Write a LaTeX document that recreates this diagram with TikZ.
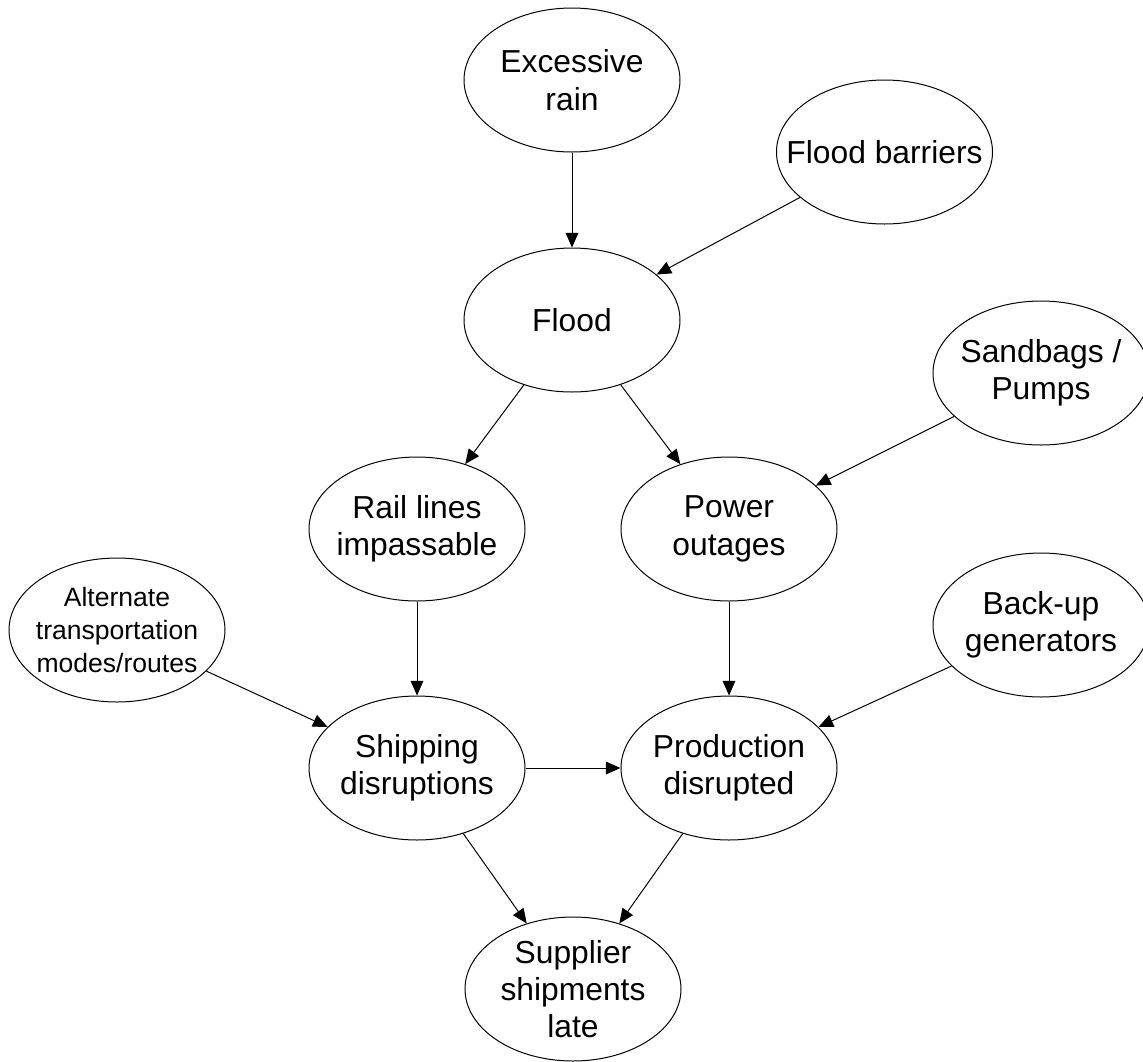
\documentclass[tikz,border=0pt]{standalone}
\usepackage{fontspec}
\setmainfont{Liberation Sans}
\usepackage{tikz}
\usetikzlibrary{shapes.geometric,arrows.meta}

\tikzset{
  ell/.style={draw, ellipse, line width=0.75pt, minimum width=162pt, minimum height=108pt,
    inner xsep=-30pt, inner ysep=-20pt, align=center,
    font=\fontsize{23.85pt}{28pt}\selectfont},
  ellsmall/.style={ell, font=\fontsize{19.9pt}{24.5pt}\selectfont},
  arr/.style={line width=0.75pt, -{Triangle[length=11pt,width=9.5pt]}}
}

\begin{document}
\begin{tikzpicture}[x=0.75pt,y=0.75pt,yscale=-1,xscale=1]
\useasboundingbox (0,0) rectangle (1143,1061);
%Shape: Ellipse
\node[ell] (rain) at (572,80) {Excessive\\rain};
\node[ell] (barriers) at (884.5,152) {Flood barriers};
\node[ell] (flood) at (572,320) {Flood};
\node[ell] (sandbags) at (1041,373) {Sandbags /\\Pumps};
\node[ell] (rail) at (417,529) {Rail lines\\impassable};
\node[ell] (power) at (729,529) {Power\\outages};
\node[ellsmall] (alternate) at (117,630) {Alternate\\transportation\\modes/routes};
\node[ell] (backup) at (1041,625) {Back-up\\generators};
\node[ell] (shipping) at (417,768) {Shipping\\disruptions};
\node[ell] (production) at (729,768) {Production\\disrupted};
\node[ell] (late) at (573,989) {Supplier\\shipments\\late};
%Straight Lines
\draw[arr] (rain) -- (flood);
\draw[arr] (barriers) -- (flood);
\draw[arr] (flood) -- (rail);
\draw[arr] (flood) -- (power);
\draw[arr] (sandbags) -- (power);
\draw[arr] (rail) -- (shipping);
\draw[arr] (power) -- (production);
\draw[arr] (alternate) -- (shipping);
\draw[arr] (backup) -- (production);
\draw[arr] (shipping) -- (production);
\draw[arr] (shipping) -- (late);
\draw[arr] (production) -- (late);
\end{tikzpicture}
\end{document}
